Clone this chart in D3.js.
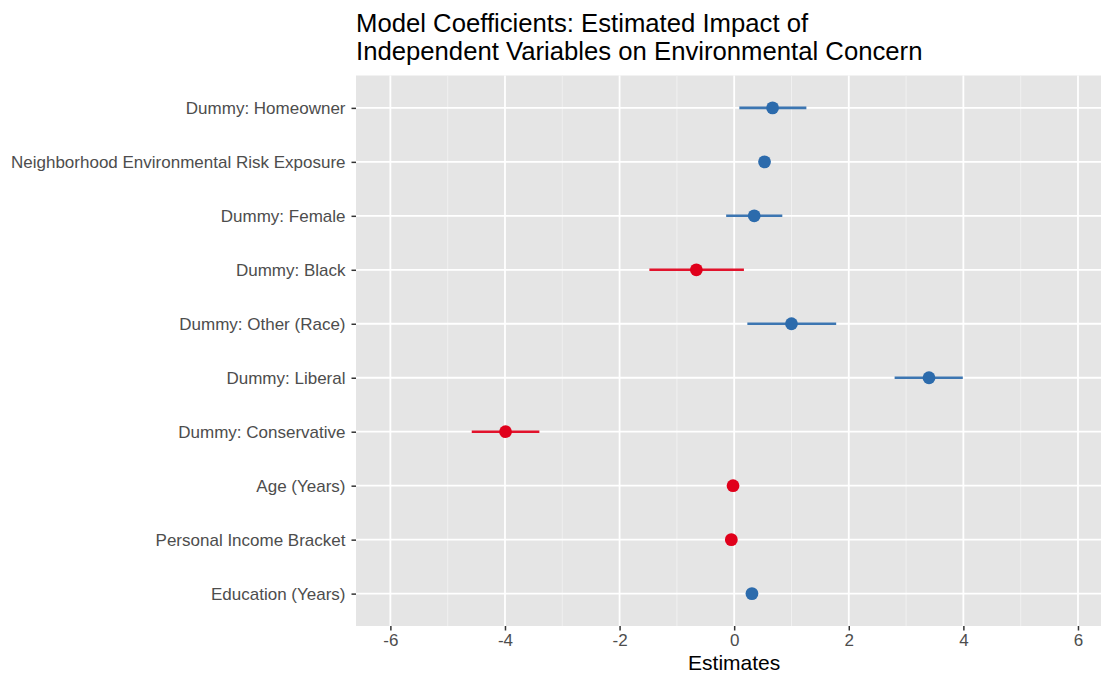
<!DOCTYPE html>
<html><head><meta charset="utf-8">
<script src="https://cdn.jsdelivr.net/npm/d3@7"></script>
<style>body{margin:0;background:#fff;} svg{display:block;}</style>
</head><body>
<svg id="c" width="1101" height="675"></svg>
<script>
const categories = ["Dummy: Homeowner","Neighborhood Environmental Risk Exposure","Dummy: Female","Dummy: Black","Dummy: Other (Race)","Dummy: Liberal","Dummy: Conservative","Age (Years)","Personal Income Bracket","Education (Years)"];
const estimates = [0.67, 0.53, 0.35, -0.66, 1.00, 3.40, -3.99, -0.02, -0.05, 0.31];
const lower     = [0.09, 0.45, -0.14, -1.48, 0.23, 2.80, -4.58, -0.05, -0.08, 0.26];
const upper     = [1.26, 0.61, 0.84, 0.17, 1.78, 3.99, -3.40, 0.01, -0.02, 0.36];
const xTicks = [-6,-4,-2,0,2,4,6];
const xMinor = [-5,-3,-1,1,3,5];

const svg = d3.select("#c");
const font = "'Liberation Sans', Arial, Helvetica, sans-serif";
const L = 356, T = 75.5, B = 626;
const x = d3.scaleLinear().domain([-6.6, 6.6]).range([L, L + 13.2*57.3]);
const R = x.range()[1];
const yPos = d3.scaleLinear().domain([0.4, 10.6]).range([T, B]);
const y = (c) => yPos(categories.indexOf(c) + 1);

svg.append("rect").attr("x", L).attr("y", T).attr("width", R - L).attr("height", B - T).attr("fill", "#E5E5E5");

const g = svg.append("g");
g.selectAll(".minor").data(xMinor).join("line")
  .attr("x1", d => x(d)).attr("x2", d => x(d)).attr("y1", T).attr("y2", B)
  .attr("stroke", "#F2F2F2").attr("stroke-width", 0.9);
g.selectAll(".major").data(xTicks).join("line")
  .attr("x1", d => x(d)).attr("x2", d => x(d)).attr("y1", T).attr("y2", B)
  .attr("stroke", "#fff").attr("stroke-width", 1.8);
g.selectAll(".hmajor").data(categories).join("line")
  .attr("x1", L).attr("x2", R).attr("y1", d => y(d)).attr("y2", d => y(d))
  .attr("stroke", "#fff").attr("stroke-width", 1.8);

// axes
const xAxis = d3.axisBottom(x).tickValues(xTicks).tickSize(4.5).tickPadding(3).tickFormat(d3.format("d"));
const xg = svg.append("g").attr("transform", `translate(0,${B})`).call(xAxis);
xg.select(".domain").remove();
xg.selectAll("line").attr("stroke", "#333").attr("stroke-width", 1.5);
xg.selectAll("text").attr("fill", "#4D4D4D").attr("font-family", font).attr("font-size", 17).text(d => d < 0 ? "-" + Math.abs(d) : d);

const yScaleBand = d3.scalePoint().domain(categories).range([yPos(1), yPos(10)]);
const yAxis = d3.axisLeft(yScaleBand).tickSize(4.5).tickPadding(6);
const yg = svg.append("g").attr("transform", `translate(${L},0)`).call(yAxis);
yg.select(".domain").remove();
yg.selectAll("line").attr("stroke", "#333").attr("stroke-width", 1.5);
yg.selectAll("text").attr("fill", "#4D4D4D").attr("font-family", font).attr("font-size", 17);

const color = (i) => estimates[i] < 0 ? "#E0001B" : "#2C6BAC";
const data = categories.map((c, i) => ({c, est: estimates[i], lo: lower[i], hi: upper[i], i}));

svg.append("g").selectAll("line").data(data).join("line")
  .attr("x1", d => x(d.lo)).attr("x2", d => x(d.hi))
  .attr("y1", d => y(d.c)).attr("y2", d => y(d.c))
  .attr("stroke", d => color(d.i)).attr("stroke-width", 2.6).attr("opacity", 0.92);
svg.append("g").selectAll("circle").data(data).join("circle")
  .attr("cx", d => x(d.est)).attr("cy", d => y(d.c)).attr("r", 6.4)
  .attr("fill", d => color(d.i));

// titles
const title = svg.append("text").attr("font-family", font).attr("font-size", 25.7).attr("fill", "#000");
title.append("tspan").attr("x", L).attr("y", 32).text("Model Coefficients: Estimated Impact of");
title.append("tspan").attr("x", L).attr("y", 60).text("Independent Variables on Environmental Concern");

svg.append("text").attr("x", (L + R) / 2).attr("y", 670).attr("text-anchor", "middle")
  .attr("font-family", font).attr("font-size", 21).attr("fill", "#000").text("Estimates");
</script>
</body></html>
